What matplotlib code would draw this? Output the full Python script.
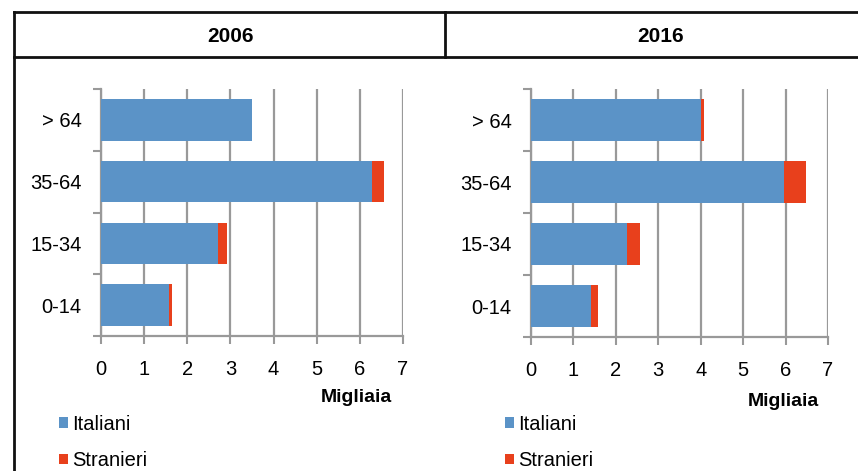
import matplotlib
matplotlib.use("Agg")
import matplotlib.pyplot as plt
from matplotlib.lines import Line2D
import numpy as np

plt.rcParams['font.family'] = ['Liberation Sans', 'DejaVu Sans']

# ---------------------------------------------------------------------------
# DATA (migliaia)
# ---------------------------------------------------------------------------
age_groups = ["0-14", "15-34", "35-64", "> 64"]
years = ["2006", "2016"]

italiani_2006 = [1.58, 2.71, 6.27, 3.49]
stranieri_2006 = [0.07, 0.21, 0.29, 0.02]

italiani_2016 = [1.42, 2.27, 5.96, 4.01]
stranieri_2016 = [0.17, 0.31, 0.53, 0.07]

series_labels = ["Italiani", "Stranieri"]

# ---------------------------------------------------------------------------
# STYLE
# ---------------------------------------------------------------------------
W, H = 858, 471
BLUE = "#5b93c7"
RED = "#e8401c"
GRID = "#999999"


def px(x0, y_top, x1, y_bottom):
    """pixel box -> figure fraction rect"""
    return [x0 / W, 1 - y_bottom / H, (x1 - x0) / W, (y_bottom - y_top) / H]


fig = plt.figure(figsize=(W / 100, H / 100), dpi=100)

# table frame
frame = dict(color="#111111", linewidth=2, transform=fig.transFigure)
fig.add_artist(Line2D([14 / W, 1], [1 - 12 / H, 1 - 12 / H], **frame))
fig.add_artist(Line2D([14 / W, 1], [1 - 57 / H, 1 - 57 / H], **frame))
fig.add_artist(Line2D([14 / W, 14 / W], [0, 1 - 12 / H], **frame))
fig.add_artist(Line2D([445 / W, 445 / W], [1 - 57 / H, 1 - 12 / H], **frame))

fig.text(230 / W, 1 - 36 / H, years[0], ha="center", va="center",
         fontsize=15, fontweight="bold")
fig.text(661 / W, 1 - 36 / H, years[1], ha="center", va="center",
         fontsize=15, fontweight="bold")

panels = [
    (px(101, 89, 403, 336), italiani_2006, stranieri_2006, (356, 398), (59, 415)),
    (px(531, 89, 828, 337), italiani_2016, stranieri_2016, (783, 401), (505, 415)),
]

y = np.arange(len(age_groups))

for rect, ita, stra, lab_pos, leg_pos in panels:
    ax = fig.add_axes(rect)
    b1 = ax.barh(y, ita, height=0.67, color=BLUE, zorder=3)
    b2 = ax.barh(y, stra, left=ita, height=0.67, color=RED, zorder=3)

    ax.set_xlim(0, 7)
    ax.set_ylim(-0.5, len(age_groups) - 0.5)
    ax.set_xticks(range(0, 8))
    ax.set_yticks(y)
    ax.set_yticklabels(age_groups)
    ax.set_yticks(np.arange(-0.5, len(age_groups)), minor=True)
    ax.tick_params(axis="y", which="major", length=0, pad=14, labelsize=14.5)
    ax.tick_params(axis="y", which="minor", length=6, width=1.5, color=GRID)
    ax.tick_params(axis="x", length=6, width=1.5, color=GRID, pad=11,
                   labelsize=14.5)

    ax.grid(axis="x", color=GRID, linewidth=1.6, zorder=0)
    for s in ["top", "right"]:
        ax.spines[s].set_visible(False)
    for s in ["left", "bottom"]:
        ax.spines[s].set_color(GRID)
        ax.spines[s].set_linewidth(1.6)

    fig.text(lab_pos[0] / W, 1 - lab_pos[1] / H, "Migliaia", ha="center",
             va="center", fontsize=14, fontweight="bold")

    fig.legend([b1, b2], series_labels, loc="upper left",
               bbox_to_anchor=(leg_pos[0] / W, 1 - leg_pos[1] / H),
               frameon=False, fontsize=14.5, borderpad=0, borderaxespad=0,
               handlelength=0.45, handleheight=0.45, handletextpad=0.2,
               labelspacing=0.85)

fig.savefig("out.png", dpi=100)
